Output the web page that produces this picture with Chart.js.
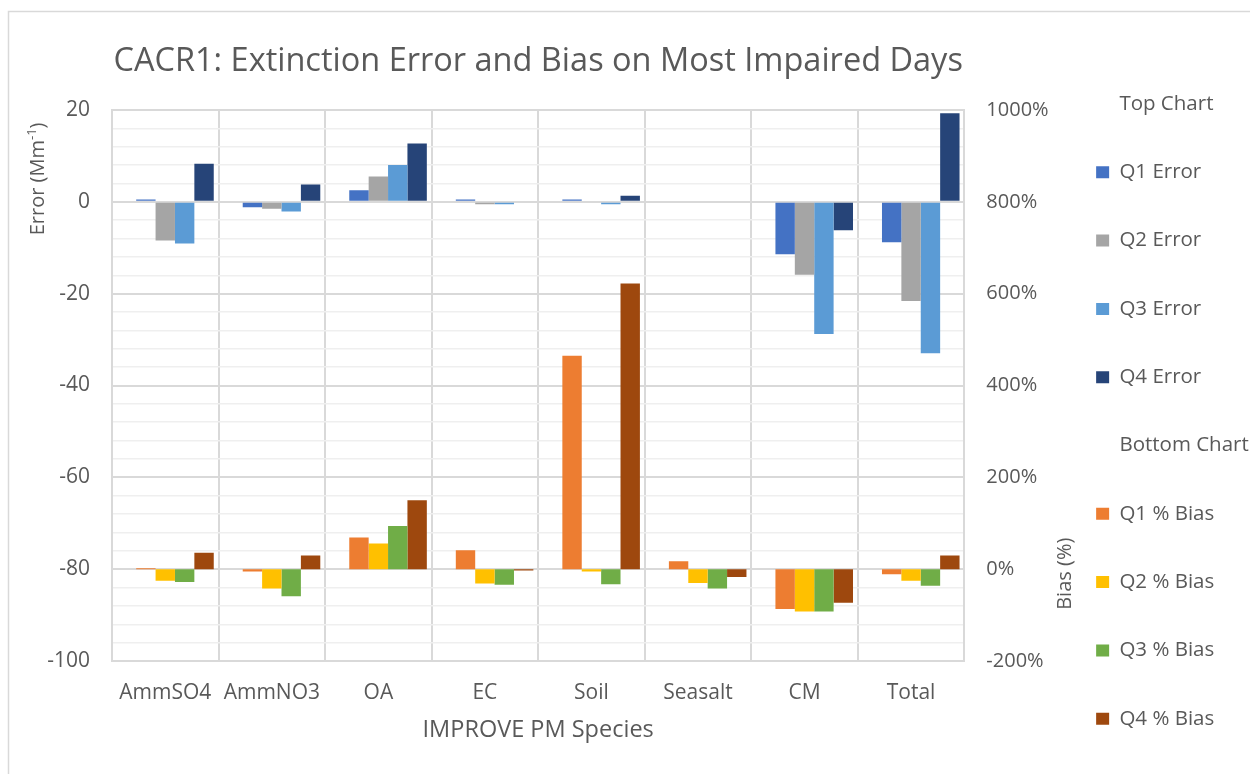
<!DOCTYPE html>
<html>
<head>
<meta charset="utf-8">
<script src="https://cdn.jsdelivr.net/npm/chart.js@4/dist/chart.umd.min.js"></script>
<style>
  html, body { margin: 0; padding: 0; background: #fff; }
  #wrap { width: 1250px; height: 774px; position: relative; }
</style>
</head>
<body>
<div id="wrap"><canvas id="chart"></canvas></div>
<script>
// Categorias (eje X)
const species = ["AmmSO4", "AmmNO3", "OA", "EC", "Soil", "Seasalt", "CM", "Total"];

// Top chart: error (Mm-1), eje izquierdo
const q1Error = [0.5, -1.2, 2.5, 0.5, 0.5, 0, -11.4, -8.8];
const q2Error = [-8.4, -1.5, 5.5, -0.5, 0, 0, -15.9, -21.6];
const q3Error = [-9.1, -2.1, 8.0, -0.5, -0.5, 0, -28.8, -33.0];
const q4Error = [8.3, 3.8, 12.7, 0, 1.3, 0, -6.2, 19.3];

// Bottom chart: % bias, eje derecho
const q1Bias = [2, -5, 69, 41, 465, 17, -87, -11];
const q2Bias = [-25, -42, 56, -31, -5, -30, -92, -25];
const q3Bias = [-28, -59, 94, -34, -33, -42, -92, -36];
const q4Bias = [36, 30, 150, -3, 622, -17, -73, 30];

// Ejes
const errorTicks = { min: -100, max: 20, minor: 4, major: 20 };
const biasTicks = { min: -200, max: 1000, step: 200 };

const textColor = "#595959";
const font = '"Open Sans", "Liberation Sans", sans-serif';

const errorSeries = [
  { label: "Q1 Error", data: q1Error, color: "#4472C4", stack: "q1" },
  { label: "Q2 Error", data: q2Error, color: "#A5A5A5", stack: "q2" },
  { label: "Q3 Error", data: q3Error, color: "#5B9BD5", stack: "q3" },
  { label: "Q4 Error", data: q4Error, color: "#264478", stack: "q4" },
];
const biasSeries = [
  { label: "Q1 % Bias", data: q1Bias, color: "#ED7D31", stack: "q1" },
  { label: "Q2 % Bias", data: q2Bias, color: "#FFC000", stack: "q2" },
  { label: "Q3 % Bias", data: q3Bias, color: "#70AD47", stack: "q3" },
  { label: "Q4 % Bias", data: q4Bias, color: "#9E480E", stack: "q4" },
];

const datasets = [
  // empty slot at the start of each group, as in the original
  { label: "", data: [], stack: "s0", yAxisID: "y" },
];
errorSeries.forEach((s) => {
  datasets.push({ label: s.label, data: s.data, backgroundColor: s.color, stack: s.stack, yAxisID: "y" });
});
biasSeries.forEach((s) => {
  datasets.push({ label: s.label, data: s.data, backgroundColor: s.color, stack: s.stack, yAxisID: "y1" });
});

// fondo blanco y marco
const frame = {
  id: "frame",
  beforeDraw(chart) {
    const ctx = chart.ctx;
    ctx.save();
    ctx.fillStyle = "#fff";
    ctx.fillRect(0, 0, chart.width, chart.height);
    ctx.strokeStyle = "#d9d9d9";
    ctx.lineWidth = 1.5;
    ctx.strokeRect(8.5, 11.5, chart.width, chart.height);
    ctx.restore();
  },
};

// titulos de ejes (posicion como en Excel)
const axisTitles = {
  id: "axisTitles",
  afterDraw(chart) {
    const { ctx, scales } = chart;
    const y = scales.y, y1 = scales.y1;
    const big = "20px " + font, small = "13px " + font;
    ctx.save();
    ctx.fillStyle = textColor;
    ctx.textBaseline = "middle";
    ctx.textAlign = "left";

    ctx.font = big;
    const w1 = ctx.measureText("Error (Mm").width;
    const w3 = ctx.measureText(")").width;
    ctx.font = small;
    const w2 = ctx.measureText("-1").width;
    ctx.translate(y.left + 38, y.getPixelForValue(5));
    ctx.rotate(-Math.PI / 2);
    let x = -(w1 + w2 + w3) / 2;
    ctx.font = big;
    ctx.fillText("Error (Mm", x, 0);
    x += w1;
    ctx.font = small;
    ctx.fillText("-1", x, -6);
    x += w2;
    ctx.font = big;
    ctx.fillText(")", x, 0);
    ctx.restore();

    ctx.save();
    ctx.fillStyle = textColor;
    ctx.font = big;
    ctx.textAlign = "center";
    ctx.textBaseline = "middle";
    ctx.translate(y1.right + 17, y1.getPixelForValue(-10));
    ctx.rotate(-Math.PI / 2);
    ctx.fillText("Bias (%)", 0, 0);
    ctx.restore();
  },
};

const ctx = document.getElementById("chart").getContext("2d");
const chart = new Chart(ctx, {
  type: "bar",
  data: { labels: species, datasets: datasets },
  plugins: [frame, axisTitles],
  options: {
    responsive: true,
    maintainAspectRatio: false,
    animation: false,
    layout: { padding: { top: 40, left: 0, right: -8, bottom: -2.75 } },
    datasets: {
      bar: { categoryPercentage: 0.91, barPercentage: 1.0, borderWidth: 0 },
    },
    plugins: {
      title: {
        display: true,
        text: "CACR1: Extinction Error and Bias on Most Impaired Days",
        color: textColor,
        fullSize: false,
        font: { family: font, size: 32.5, weight: "normal" },
        padding: { top: 2.5, bottom: 28.5 },
      },
      legend: {
        position: "right",
        align: "end",
        labels: {
          color: textColor,
          font: { family: font, size: 20.5 },
          boxWidth: 13,
          boxHeight: 12,
          padding: 47.8,
          generateLabels(chart) {
            const items = [];
            const header = (text) => ({
              text: text,
              fillStyle: "rgba(0,0,0,0)",
              strokeStyle: "rgba(0,0,0,0)",
              lineWidth: 0,
              hidden: false,
              fontColor: textColor,
            });
            const entry = (ds, i) => ({
              text: ds.label,
              fillStyle: ds.backgroundColor,
              strokeStyle: ds.backgroundColor,
              lineWidth: 0,
              hidden: false,
              datasetIndex: i,
              fontColor: textColor,
            });
            const ds = chart.data.datasets;
            items.push(header("Top Chart"));
            ds.forEach((d, i) => { if (d.label && d.yAxisID === "y") items.push(entry(d, i)); });
            items.push(header("Bottom Chart"));
            ds.forEach((d, i) => { if (d.label && d.yAxisID === "y1") items.push(entry(d, i)); });
            return items;
          },
        },
      },
      tooltip: { enabled: false },
    },
    scales: {
      x: {
        grid: { color: "#d9d9d9", lineWidth: 2, drawTicks: false },
        border: { color: "#d9d9d9", width: 2 },
        ticks: { color: textColor, font: { family: font, size: 21 }, padding: 19, maxRotation: 0 },
        title: {
          display: true,
          text: "IMPROVE PM Species",
          color: textColor,
          font: { family: font, size: 23.5 },
          padding: { top: 0, bottom: 32.6 },
        },
        afterFit(scale) { scale.height = 115.75; },
      },
      y: {
        position: "left",
        stacked: false,
        min: errorTicks.min,
        max: errorTicks.max,
        grid: {
          drawTicks: false,
          color: (c) => (c.tick && c.tick.value % errorTicks.major === 0 ? "#d9d9d9" : "#efefef"),
          lineWidth: (c) => (c.tick && c.tick.value % errorTicks.major === 0 ? 2 : 1.5),
        },
        border: { color: "#d9d9d9", width: 2 },
        ticks: {
          stepSize: errorTicks.minor,
          autoSkip: false,
          color: textColor,
          font: { family: font, size: 21 },
          padding: 22,
          callback: (v) => (v % errorTicks.major === 0 ? v : ""),
        },
        afterFit(scale) { scale.width = 112; },
      },
      y1: {
        position: "right",
        stacked: false,
        min: biasTicks.min,
        max: biasTicks.max,
        grid: { display: false, drawTicks: false },
        border: { color: "#d9d9d9", width: 2 },
        ticks: {
          stepSize: biasTicks.step,
          color: textColor,
          font: { family: font, size: 20 },
          padding: 22,
          callback: (v) => v + "%",
        },
        afterFit(scale) { scale.width = 84; },
      },
    },
  },
});
</script>
</body>
</html>
